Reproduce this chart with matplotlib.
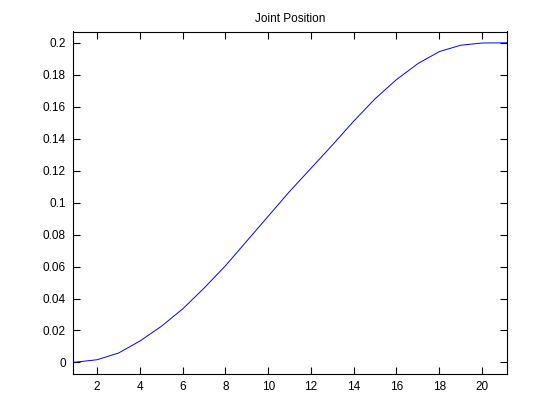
import matplotlib
matplotlib.use("Agg")
import matplotlib.pyplot as plt

x = [0.86, 1, 2, 3, 4, 5, 6, 7, 8, 9, 10, 11, 12, 13, 14, 15, 16, 17, 18, 19, 20, 21, 21.16]
y = [0.0, 0.0002, 0.0017, 0.0059, 0.0134, 0.0226, 0.0335, 0.0465, 0.0605, 0.0760,
     0.0915, 0.1070, 0.1215, 0.1360, 0.1510, 0.1650, 0.1770, 0.1870, 0.1945, 0.1985,
     0.1999, 0.2000, 0.2000]
xticks = [2, 4, 6, 8, 10, 12, 14, 16, 18, 20]
yticks = [0, 0.02, 0.04, 0.06, 0.08, 0.1, 0.12, 0.14, 0.16, 0.18, 0.2]
ytick_labels = ["0", "0.02", "0.04", "0.06", "0.08", "0.1", "0.12", "0.14", "0.16", "0.18", "0.2"]

plt.rcParams['font.family'] = ['Liberation Sans', 'DejaVu Sans']
fig = plt.figure(figsize=(5.6, 4.2), dpi=100)
ax = fig.add_axes([0.13, 0.11, 0.775, 0.815])
ax.plot(x, y, color=(0, 0, 1), linewidth=0.7)
ax.set_xlim(0.86, 21.16)
ax.set_ylim(-0.0071, 0.2071)
ax.set_xticks(xticks)
ax.set_xticklabels([str(t) for t in xticks])
ax.set_yticks(yticks)
ax.set_yticklabels(ytick_labels)
ax.tick_params(direction='in', length=5, width=0.8, labelsize=8.5, top=True, right=True, pad=5)
for s in ax.spines.values():
    s.set_linewidth(0.8)
ax.set_title("Joint Position", fontsize=8.5, pad=7)
fig.savefig("out.png", dpi=100)
